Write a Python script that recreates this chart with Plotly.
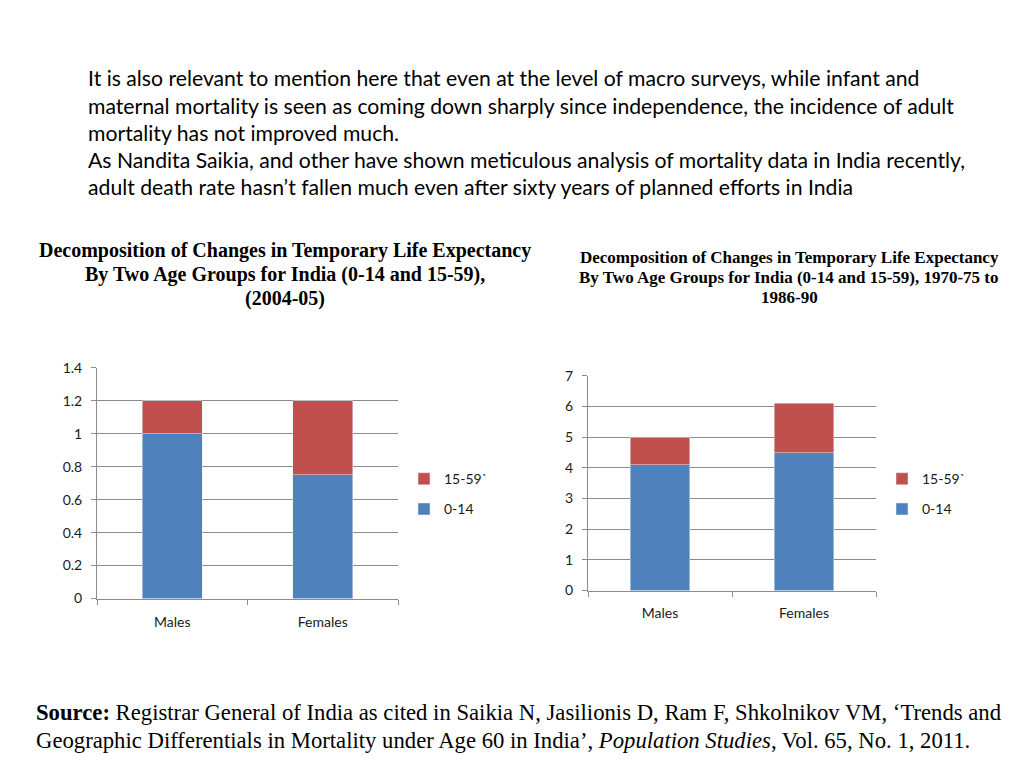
import plotly.graph_objects as go

# ---- data ----
categories = ["Males", "Females"]
left_0_14 = [1.0, 0.75]
left_15_59 = [0.2, 0.45]
right_0_14 = [4.1, 4.5]
right_15_59 = [0.9, 1.6]
series_names = ["0-14", "15-59`"]

paragraph_lines = [
    "It is also relevant to mention here that even at the level of macro surveys, while infant and",
    "maternal mortality is seen as coming down sharply since independence, the incidence of adult",
    "mortality has not improved much.",
    "As Nandita Saikia, and other have shown meticulous analysis of mortality data in India recently,",
    "adult death rate hasn\u2019t fallen much even after sixty years of planned efforts in India",
]
left_title_lines = [
    "Decomposition of Changes in Temporary Life Expectancy",
    "By Two Age Groups for India (0-14 and 15-59),",
    "(2004-05)",
]
right_title_lines = [
    "Decomposition of Changes in Temporary Life Expectancy",
    "By Two Age Groups for India (0-14 and 15-59), 1970-75 to",
    "1986-90",
]
source_lines = [
    "<b>Source:</b> Registrar General of India as cited in Saikia N, Jasilionis D, Ram F, Shkolnikov VM, \u2018Trends and",
    "Geographic Differentials in Mortality under Age 60 in India\u2019, <i>Population Studies</i>, Vol. 65, No. 1, 2011.",
]

BLUE = "#4F81BD"
RED = "#C0504D"
GRID = "#8C8C8C"

# page offset (default body margin) and figure size
OFF = 8
W, H = 1024 - 2 * OFF, 768 - 2 * OFF
VS, VO = 0.979, 7.7  # observed vertical mapping of the page capture


def px(X):
    return (X - OFF) / W


def py(Y):
    return 1 - ((Y - VO) / VS - OFF) / H


fig = go.Figure()
fig.add_trace(go.Bar(x=categories, y=left_0_14, name=series_names[0], marker_color=BLUE,
                     xaxis="x", yaxis="y", legend="legend", legendgroup="a", legendrank=2,
                     width=0.4))
fig.add_trace(go.Bar(x=categories, y=left_15_59, name=series_names[1], marker_color=RED,
                     xaxis="x", yaxis="y", legend="legend", legendgroup="b", legendrank=1,
                     width=0.4))
fig.add_trace(go.Bar(x=categories, y=right_0_14, name=series_names[0], marker_color=BLUE,
                     xaxis="x2", yaxis="y2", legend="legend2", legendgroup="c", legendrank=2,
                     width=0.41))
fig.add_trace(go.Bar(x=categories, y=right_15_59, name=series_names[1], marker_color=RED,
                     xaxis="x2", yaxis="y2", legend="legend2", legendgroup="d", legendrank=1,
                     width=0.41))

tickfont = dict(family="Lato, Open Sans, sans-serif", size=14, color="#1a1a1a")


def xax(domain, anchor, standoff):
    return dict(domain=domain, anchor=anchor, showgrid=False, showline=True, linecolor=GRID,
                linewidth=1, ticks="outside", tickson="boundaries", ticklen=5, tickcolor=GRID,
                tickfont=tickfont, ticklabelstandoff=standoff, fixedrange=True)


def yax(domain, anchor, rng, dtick):
    return dict(domain=domain, anchor=anchor, range=rng, dtick=dtick, showgrid=True,
                gridcolor=GRID, gridwidth=1, showline=True, linecolor=GRID, linewidth=1,
                ticks="outside", ticklen=5, tickcolor=GRID, tickfont=tickfont,
                ticklabelstandoff=6, zeroline=False, fixedrange=True)


legend_common = dict(font=dict(family="Lato, Open Sans, sans-serif", size=14, color="#1a1a1a"),
                     traceorder="grouped", tracegroupgap=9, bgcolor="rgba(0,0,0,0)",
                     xanchor="left", yanchor="middle", itemclick=False, itemdoubleclick=False)

annotations = []


def add_text(text, X, Y, anchor, family, size):
    annotations.append(dict(text=text, x=px(X), y=py(Y), xref="paper", yref="paper",
                            xanchor=anchor, yanchor="middle", showarrow=False,
                            font=dict(family=family, size=size, color="#000")))


for line, yy in zip(paragraph_lines, [77, 105, 132, 159, 186]):
    add_text(line, 86, yy, "left", "Lato, sans-serif", 21.2)
for line, yy in zip(left_title_lines, [249, 273, 297]):
    add_text("<b>" + line + "</b>", 285, yy, "center", "Liberation Serif, serif", 20)
for line, yy in zip(right_title_lines, [256, 276, 296]):
    add_text("<b>" + line + "</b>", 789, yy, "center", "Liberation Serif, serif", 17)
for line, yy in zip(source_lines, [712, 740]):
    add_text(line, 34, yy, "left", "Liberation Serif, serif", 22.7)

fig.update_layout(
    width=W, height=H, margin=dict(l=0, r=0, t=0, b=0),
    paper_bgcolor="white", plot_bgcolor="white",
    barmode="stack",
    xaxis=xax([px(97), px(398)], "y", 11),
    yaxis=yax([py(598), py(367)], "x", [0, 1.4], 0.2),
    xaxis2=xax([px(588), px(876)], "y2", 10),
    yaxis2=yax([py(590), py(375)], "x2", [0, 7], 1),
    legend=dict(x=px(404), y=py(493.5), **legend_common),
    legend2=dict(x=px(882), y=py(493.5), **legend_common),
    annotations=annotations,
    showlegend=True,
)

fig.write_html("out.html", config={"displayModeBar": False})
